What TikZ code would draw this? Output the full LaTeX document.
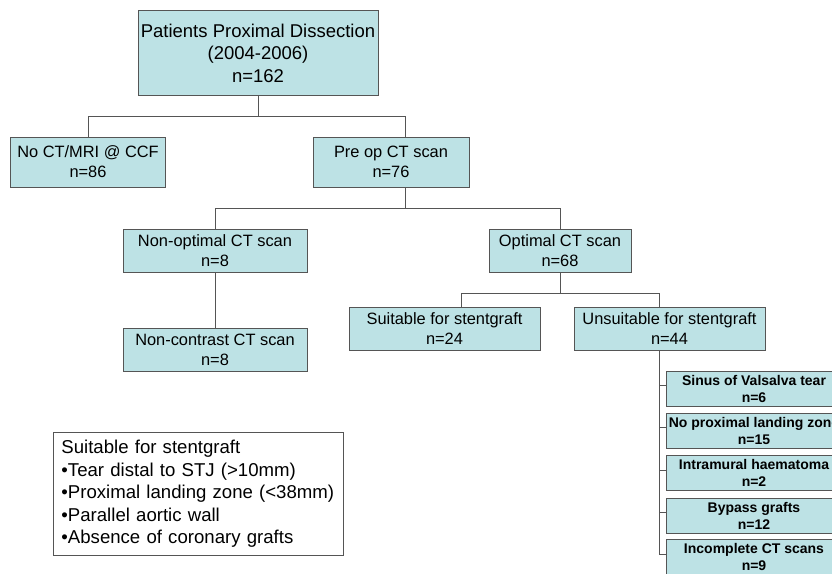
\documentclass[tikz,border=0pt]{standalone}
\usepackage{fontspec}
\setmainfont{Liberation Sans}
\definecolor{boxfill}{RGB}{189,226,229}
\definecolor{boxline}{RGB}{85,85,85}
\begin{document}
\begin{tikzpicture}[x=1pt,y=-1pt,
  box/.style={draw=boxline, fill=boxfill, line width=0.9pt, inner sep=0pt, align=center,
    font=\fontsize{16.4}{20}\selectfont},
  subbox/.style={box, minimum width=176pt, minimum height=35pt,
    font=\bfseries\fontsize{14}{17}\selectfont},
  link/.style={draw=boxline, line width=0.9pt}]
\useasboundingbox (0,0) rectangle (832,573);
\clip (0,0) rectangle (832,573);
% boxes
\node[box, minimum width=240pt, minimum height=85pt, font=\fontsize{18.5}{22.5}\selectfont] (top) at (258,53) {Patients Proximal Dissection\\(2004-2006)\\n=162};
\node[box, minimum width=155pt, minimum height=50pt] (noct) at (88,162) {No CT/MRI @ CCF\\n=86};
\node[box, minimum width=156pt, minimum height=50pt] (preop) at (391,162) {Pre op CT scan\\n=76};
\node[box, minimum width=184pt, minimum height=43pt] (nonopt) at (215,250.5) {Non-optimal CT scan\\n=8};
\node[box, minimum width=184pt, minimum height=43pt] (noncon) at (215,349.5) {Non-contrast CT scan\\n=8};
\node[box, minimum width=142pt, minimum height=43pt] (opt) at (560,250.5) {Optimal CT scan\\n=68};
\node[box, minimum width=191pt, minimum height=43pt] (suit) at (444.5,328.5) {Suitable for stentgraft\\n=24};
\node[box, minimum width=191pt, minimum height=43pt] (unsuit) at (669.5,328.5) {Unsuitable for stentgraft\\n=44};
\node[subbox] (s1) at (754,388.5) {Sinus of Valsalva tear\\n=6};
\node[subbox] (s2) at (754,430.5) {No proximal landing zone\\n=15};
\node[subbox] (s3) at (754,473) {Intramural haematoma\\n=2};
\node[subbox] (s4) at (754,515.5) {Bypass grafts\\n=12};
\node[subbox] (s5) at (754,557) {Incomplete CT scans\\n=9};
% criteria
\node[draw=boxline, fill=white, line width=0.9pt, anchor=north west, minimum width=290pt, minimum height=123pt,
  text width=274pt, inner xsep=8pt, align=left, font=\fontsize{18.6}{22.5}\selectfont] (crit) at (53,432)
  {Suitable for stentgraft\\•Tear distal to STJ (>10mm)\\•Proximal landing zone (<38mm)\\•Parallel aortic wall\\•Absence of coronary grafts};
% connectors
\draw[link] (top.south) -- ++(0,20) -| (noct.north);
\draw[link] (top.south) ++(0,20) -| ([xshift=14]preop.north);
\draw[link] ([xshift=14]preop.south) -- ++(0,21) -| (nonopt.north);
\draw[link] ([xshift=14]preop.south) ++(0,21) -| (opt.north);
\draw[link] (nonopt.south) -- (noncon.north);
\draw[link] (opt.south) -- ++(0,21) -| ([xshift=17]suit.north);
\draw[link] (opt.south) ++(0,21) -| ([xshift=-10.5]unsuit.north);
\foreach \n in {s1,s2,s3,s4,s5}
  \draw[link] ([xshift=-10.5]unsuit.south) |- ([yshift=3]\n.west);
\end{tikzpicture}
\end{document}
